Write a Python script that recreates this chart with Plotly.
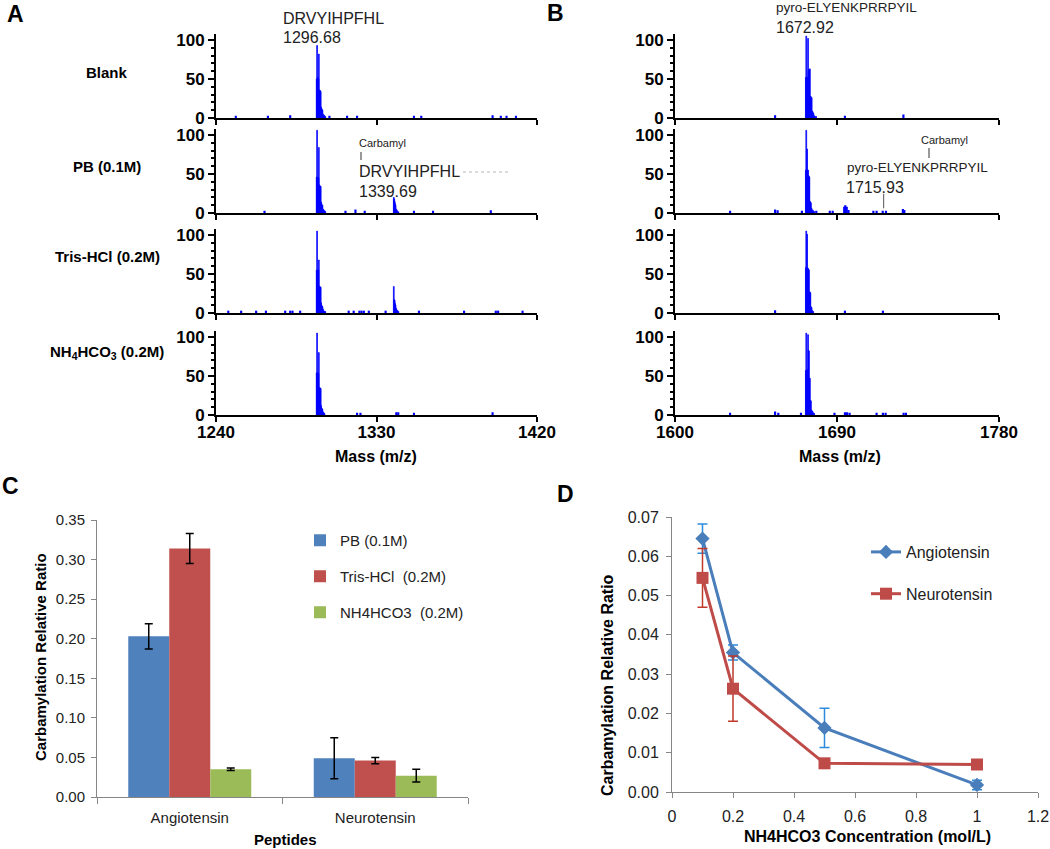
import plotly.graph_objects as go

W, H = 1050, 849
FONT = "Liberation Sans, Arial, sans-serif"
SPEC_BLUE = "#0000FF"

# ---------------- Panel A : angiotensin spectra ----------------
A_TICKS = [1240, 1330, 1420]
A_MZ_BLANK = [1296.45, 1296.68, 1296.95, 1297.2, 1297.45, 1297.68, 1297.95, 1298.2, 1298.45, 1298.7,
              1298.95, 1299.2, 1299.45, 1299.7, 1300.0, 1300.4, 1300.8, 1301.3]
A_INT_BLANK = [50, 93, 52, 51, 50, 82, 36, 35, 35, 34, 14, 12, 11, 10, 5, 4, 3, 2]
A_NOISE_MZ_BLANK = [1251.1, 1269.1, 1281.6, 1303.6, 1313.5, 1319.1, 1351.0, 1355.1, 1395.1, 1399.7, 1402.9, 1408.2]
A_NOISE_INT_BLANK = [3, 3, 3.5, 3, 3, 3, 3, 3, 3.5, 3, 3, 3]

A_MZ_PB = [1296.45, 1296.68, 1296.95, 1297.2, 1297.45, 1297.68, 1297.95, 1298.2, 1298.45, 1298.7,
           1298.95, 1299.2, 1299.45, 1299.7, 1300.0, 1300.4, 1300.8, 1301.3,
           1339.69, 1339.95, 1340.2, 1340.45, 1340.7, 1341.0, 1341.4, 1341.8, 1342.3]
A_INT_PB = [46, 106, 46, 45, 45, 84, 36, 35, 34, 34, 14, 12, 10, 10, 5, 4, 3, 2,
            20, 18, 15, 12, 10, 5, 4, 2, 1.5]
A_NOISE_MZ_PB = [1267.2, 1312.6, 1318.2, 1323.4, 1351.0, 1361.7, 1394.1]
A_NOISE_INT_PB = [3, 3, 4.5, 3, 3, 3, 3.5]

A_MZ_TRIS = [1296.45, 1296.68, 1296.95, 1297.2, 1297.45, 1297.68, 1297.95, 1298.2, 1298.45, 1298.7,
             1298.95, 1299.2, 1299.45, 1299.7, 1300.0, 1300.4, 1300.8, 1301.3,
             1339.69, 1339.95, 1340.2, 1340.45, 1340.7, 1341.0, 1341.4, 1341.8, 1342.3]
A_INT_TRIS = [55, 105, 55, 54, 55, 68, 34, 34, 33, 33, 13, 10, 9, 8, 5, 3, 2, 2,
              34, 17, 16, 12, 10, 6, 4, 3, 2]
A_NOISE_MZ_TRIS = [1246.9, 1254.1, 1262.5, 1268.0, 1278.8, 1281.6, 1282.9, 1287.2, 1314.4, 1317.2,
                   1320.4, 1321.6, 1322.9, 1325.7, 1335.1, 1353.8, 1379.1, 1396.9, 1398.2, 1411.9]
A_NOISE_INT_TRIS = [3, 3, 3, 3, 3, 3, 3, 3, 3, 3, 3, 3, 3, 3, 3, 3, 3, 3, 3, 3]

A_MZ_NH4 = [1296.45, 1296.68, 1296.95, 1297.2, 1297.45, 1297.68, 1297.95, 1298.2, 1298.45, 1298.7,
            1298.95, 1299.2, 1299.45, 1299.7, 1300.0, 1300.4, 1300.8]
A_INT_NH4 = [54, 105, 54, 54, 53, 80, 35, 35, 34, 34, 12, 9, 8, 7, 4, 3, 2]
A_NOISE_MZ_NH4 = [1319.1, 1321.0, 1341.1, 1342.2, 1351.0, 1395.1]
A_NOISE_INT_NH4 = [3, 3, 3.5, 3.5, 3, 3.5]

# ---------------- Panel B : neurotensin spectra ----------------
B_TICKS = [1600, 1690, 1780]
B_MZ_BLANK = [1672.7, 1672.92, 1673.15, 1673.4, 1673.65, 1673.92, 1674.15, 1674.4, 1674.65, 1674.92,
              1675.15, 1675.4, 1675.65, 1675.92, 1676.2, 1676.5, 1676.9, 1677.3, 1677.8, 1678.4]
B_INT_BLANK = [52, 105, 52, 52, 52, 102, 60, 62, 62, 63, 28, 27, 27, 26, 9, 8, 6, 3, 2, 2]
B_NOISE_MZ_BLANK = [1655.6, 1694.4, 1726.9]
B_NOISE_INT_BLANK = [3.5, 3, 4.5]

B_MZ_PB = [1672.7, 1672.92, 1673.15, 1673.4, 1673.65, 1673.92, 1674.15, 1674.4, 1674.65, 1674.92,
           1675.2, 1675.5, 1675.9, 1676.3, 1676.8, 1677.3]
B_INT_PB = [55, 106, 55, 82, 55, 55, 48, 47, 46, 15, 14, 13, 6, 4, 3, 2]
B_NOISE_MZ_PB = [1630.6, 1655.6, 1657.0, 1670.5, 1678.5, 1686.0, 1687.6, 1694.0, 1694.6, 1695.4,
                 1696.4, 1710.2, 1712.0, 1715.4, 1717.2, 1726.6, 1727.4]
B_NOISE_INT_PB = [3, 4.5, 3.5, 3, 3, 3, 3, 8, 10, 8, 4, 3, 3, 3, 3, 5, 4]

B_MZ_TRIS = [1672.7, 1672.92, 1673.15, 1673.4, 1673.65, 1673.92, 1674.15, 1674.4, 1674.65, 1674.92,
             1675.2, 1675.5, 1675.9, 1676.3, 1676.8]
B_INT_TRIS = [58, 105, 58, 101, 58, 57, 56, 55, 27, 27, 26, 8, 7, 3, 2]
B_NOISE_MZ_TRIS = [1655.6, 1694.4, 1715.5]
B_NOISE_INT_TRIS = [3.5, 3, 3]

B_MZ_NH4 = [1672.7, 1672.92, 1673.15, 1673.4, 1673.65, 1673.92, 1674.15, 1674.4, 1674.65, 1674.92,
            1675.2, 1675.5, 1675.9, 1676.3, 1676.8, 1677.3]
B_INT_NH4 = [57, 105, 57, 57, 58, 103, 83, 82, 47, 47, 19, 18, 6, 5, 3, 2]
B_NOISE_MZ_NH4 = [1630.6, 1655.6, 1657.4, 1670.0, 1688.6, 1694.4, 1695.6, 1697.0, 1712.0, 1715.5,
                  1717.0, 1727.0, 1728.3]
B_NOISE_INT_NH4 = [3, 4.5, 3, 3, 3, 3.5, 3.5, 3, 3, 3, 3, 3, 3]

ROW_LABELS = ["Blank", "PB (0.1M)", "Tris-HCl (0.2M)", "NH<sub>4</sub>HCO<sub>3</sub> (0.2M)"]

# ---------------- Panel C : bar chart ----------------
C_PEPTIDES = ["Angiotensin", "Neurotensin"]
C_SERIES = ["PB (0.1M)", "Tris-HCl  (0.2M)", "NH4HCO3  (0.2M)"]
C_PB = [0.203, 0.049]
C_PB_ERR = [0.016, 0.026]
C_TRIS = [0.314, 0.046]
C_TRIS_ERR = [0.019, 0.004]
C_NH4 = [0.035, 0.027]
C_NH4_ERR = [0.0015, 0.008]
C_COLORS = ["#4F81BD", "#C0504D", "#9BBB59"]

# ---------------- Panel D : concentration series ----------------
D_CONC = [0.1, 0.2, 0.5, 1.0]
D_ANGIO = [0.0645, 0.0355, 0.0163, 0.0018]
D_ANGIO_ERR = [0.0037, 0.0019, 0.005, 0.0012]
D_NEURO = [0.0545, 0.0263, 0.0073, 0.0070]
D_NEURO_ERR = [0.0075, 0.0083, 0.0005, 0.0006]


def px(x):
    return x / W


def py(y):
    return 1 - y / H


fig = go.Figure()

spectra = [
    (A_MZ_BLANK, A_INT_BLANK, A_NOISE_MZ_BLANK, A_NOISE_INT_BLANK),
    (A_MZ_PB, A_INT_PB, A_NOISE_MZ_PB, A_NOISE_INT_PB),
    (A_MZ_TRIS, A_INT_TRIS, A_NOISE_MZ_TRIS, A_NOISE_INT_TRIS),
    (A_MZ_NH4, A_INT_NH4, A_NOISE_MZ_NH4, A_NOISE_INT_NH4),
    (B_MZ_BLANK, B_INT_BLANK, B_NOISE_MZ_BLANK, B_NOISE_INT_BLANK),
    (B_MZ_PB, B_INT_PB, B_NOISE_MZ_PB, B_NOISE_INT_PB),
    (B_MZ_TRIS, B_INT_TRIS, B_NOISE_MZ_TRIS, B_NOISE_INT_TRIS),
    (B_MZ_NH4, B_INT_NH4, B_NOISE_MZ_NH4, B_NOISE_INT_NH4),
]

ZERO_PX = [118, 213, 313, 415]
PX_PER_UNIT = 0.78
YMAX = 108
layout_axes = {}
bold_tick = dict(family=FONT, size=17, color="black", weight="bold")

for i, (mz, inten, nmz, nint) in enumerate(spectra):
    n = i + 1
    xa = "x" if n == 1 else f"x{n}"
    ya = "y" if n == 1 else f"y{n}"
    fig.add_trace(go.Bar(x=mz, y=inten, width=0.45, xaxis=xa, yaxis=ya, showlegend=False,
                         marker=dict(color=SPEC_BLUE, line=dict(color=SPEC_BLUE, width=0.7))))
    fig.add_trace(go.Bar(x=nmz, y=nint, width=1.2, xaxis=xa, yaxis=ya, showlegend=False,
                         marker=dict(color=SPEC_BLUE, line=dict(width=0))))
    row = i % 4
    panel_b = i >= 4
    x0, x1 = (675, 999) if panel_b else (216, 537)
    ticks = B_TICKS if panel_b else A_TICKS
    zero = ZERO_PX[row]
    top = zero - YMAX * PX_PER_UNIT
    layout_axes["xaxis" if n == 1 else f"xaxis{n}"] = dict(
        domain=[px(x0), px(x1)], range=[ticks[0], ticks[-1]], anchor=ya, automargin=False,
        tickvals=ticks, ticks="outside", ticklen=5, tickwidth=2, tickcolor="black",
        ticklabelstandoff=-4,
        showline=True, linewidth=2, linecolor="black", showgrid=False, zeroline=False,
        showticklabels=(row == 3), tickfont=bold_tick, fixedrange=True)
    layout_axes["yaxis" if n == 1 else f"yaxis{n}"] = dict(
        domain=[py(zero), py(top)], range=[0, YMAX], anchor=xa, automargin=False,
        tickvals=[0, 50, 100], ticks="outside", ticklen=6, tickwidth=2, tickcolor="black",
        minor=dict(dtick=10, tick0=0, ticks="outside", ticklen=3, tickwidth=1.5, tickcolor="black"),
        showline=True, linewidth=2, linecolor="black", showgrid=False, zeroline=False,
        tickfont=bold_tick, fixedrange=True)

# ---- Panel C bars ----
for name, vals, errs, col in zip(C_SERIES, [C_PB, C_TRIS, C_NH4], [C_PB_ERR, C_TRIS_ERR, C_NH4_ERR], C_COLORS):
    fig.add_trace(go.Bar(x=C_PEPTIDES, y=vals, name=name, xaxis="x9", yaxis="y9",
                         marker=dict(color=col, line=dict(width=0)),
                         error_y=dict(type="data", array=errs, color="black", thickness=1.5, width=4),
                         legend="legend", legendgroup=name))

# ---- Panel D lines ----
fig.add_trace(go.Scatter(x=D_CONC, y=D_ANGIO, name="Angiotensin", mode="lines+markers",
                         xaxis="x10", yaxis="y10", legend="legend2", legendgroup="a",
                         line=dict(color="#4A7EBB", width=3),
                         marker=dict(symbol="diamond", size=11, color="#4A7EBB"),
                         error_y=dict(type="data", array=D_ANGIO_ERR, color="#2E8BDB", thickness=1.5, width=5)))
fig.add_trace(go.Scatter(x=D_CONC, y=D_NEURO, name="Neurotensin", mode="lines+markers",
                         xaxis="x10", yaxis="y10", legend="legend2", legendgroup="n",
                         line=dict(color="#BE4B48", width=3),
                         marker=dict(symbol="square", size=12, color="#BE4B48"),
                         error_y=dict(type="data", array=D_NEURO_ERR, color="#C0392B", thickness=1.5, width=5)))

grey_axis = dict(showline=True, linewidth=1, linecolor="#868686", ticks="outside",
                 tickcolor="#868686", showgrid=False, zeroline=False, fixedrange=True, automargin=False)

layout_axes["xaxis9"] = dict(domain=[px(97), px(468)], anchor="y9", type="category",
                             range=[-0.5, 1.5], tickson="boundaries", ticklen=6, ticklabelstandoff=7,
                             tickfont=dict(family=FONT, size=15, color="#222"), **grey_axis)
layout_axes["yaxis9"] = dict(domain=[py(797), py(520)], anchor="x9", range=[0, 0.35], dtick=0.05,
                             tickformat=".2f", ticklen=5, ticklabelstandoff=3,
                             tickfont=dict(family=FONT, size=15, color="#222"), **grey_axis)
layout_axes["xaxis10"] = dict(domain=[px(672), px(1038)], anchor="y10", range=[0, 1.2], dtick=0.2,
                              ticklen=5, ticklabelstandoff=5,
                              tickfont=dict(family=FONT, size=16, color="#222"), **grey_axis)
layout_axes["yaxis10"] = dict(domain=[py(792), py(517)], anchor="x10", range=[0, 0.07], dtick=0.01,
                              tickformat=".2f", ticklen=5, ticklabelstandoff=4,
                              tickfont=dict(family=FONT, size=16, color="#222"), **grey_axis)

annotations = []


def txt(x, y, text, size, bold=False, anchor="left", color="#111", angle=0):
    annotations.append(dict(x=px(x), y=py(y), xref="paper", yref="paper", text=text, showarrow=False,
                            xanchor=anchor, yanchor="middle", textangle=angle,
                            font=dict(family=FONT, size=size, color=color,
                                      weight="bold" if bold else "normal")))


# panel letters
txt(15, 14, "A", 23, True, "center", "black")
txt(555, 13, "B", 23, True, "center", "black")
txt(10, 486, "C", 23, True, "center", "black")
txt(565, 494, "D", 23, True, "center", "black")

# row labels
for lab, yy in zip(ROW_LABELS, [72, 166, 257, 352]):
    txt(107, yy, lab, 15, True, "center", "black")

# spectrum annotations
txt(281, 18, "DRVYIHPFHL", 16, False, "left", "#222")
txt(281, 38, "1296.68", 16, False, "left", "#222")
txt(357, 143, "Carbamyl", 11, False, "left", "#222")
txt(357, 171, "DRVYIHPFHL", 16, False, "left", "#222")
txt(357, 191, "1339.69", 16, False, "left", "#222")
txt(774, 8, "pyro-ELYENKPRRPYIL", 13.5, False, "left", "#222")
txt(774, 27, "1672.92", 16, False, "left", "#222")
txt(919, 140, "Carbamyl", 11, False, "left", "#222")
txt(845, 167, "pyro-ELYENKPRRPYIL", 13.5, False, "left", "#222")
txt(844, 187, "1715.93", 16, False, "left", "#222")
annotations.append(dict(x=1715.93, y=6, xref="x6", yref="y6", text="", showarrow=True, arrowhead=0,
                        arrowwidth=1, arrowcolor="#555", ax=0, ay=-16))

# axis titles
txt(376, 456, "Mass (m/z)", 16, True, "center", "black")
txt(840, 456, "Mass (m/z)", 16, True, "center", "black")
txt(40, 657, "Carbamylation Relative Ratio", 15, True, "center", "black", -90)
txt(285, 839, "Peptides", 15, True, "center", "black")
txt(607, 685, "Carbamylation Relative Ratio", 16, True, "center", "black", -90)
txt(867, 836, "NH4HCO3 Concentration (mol/L)", 16, True, "center", "black")

shapes = [
    dict(type="line", xref="paper", yref="paper", x0=px(361), x1=px(361), y0=py(152), y1=py(160),
         line=dict(color="#333", width=1)),
    dict(type="line", xref="paper", yref="paper", x0=px(929), x1=px(929), y0=py(148), y1=py(158),
         line=dict(color="#333", width=1)),
    dict(type="line", xref="paper", yref="paper", x0=px(463), x1=px(510), y0=py(172), y1=py(172),
         line=dict(color="#d0d0d0", width=1.5, dash="dot")),
]

fig.update_layout(
    width=W, height=H, margin=dict(l=0, r=0, t=0, b=0, pad=0, autoexpand=False),
    paper_bgcolor="white", plot_bgcolor="white",
    font=dict(family=FONT, color="#222"),
    barmode="group", bargap=0.337, bargroupgap=0,
    annotations=annotations, shapes=shapes,
    legend=dict(x=px(300), y=py(524), xanchor="left", yanchor="top", bgcolor="rgba(0,0,0,0)",
                font=dict(family=FONT, size=15, color="#222"), tracegroupgap=13.5),
    legend2=dict(x=px(866), y=py(535), xanchor="left", yanchor="top", bgcolor="rgba(0,0,0,0)",
                 font=dict(family=FONT, size=16, color="#222"), tracegroupgap=18),
    **layout_axes,
)

fig.write_html("out.html", config={"displayModeBar": False},
               post_script="document.body.style.margin='0';document.body.style.overflow='hidden';")
